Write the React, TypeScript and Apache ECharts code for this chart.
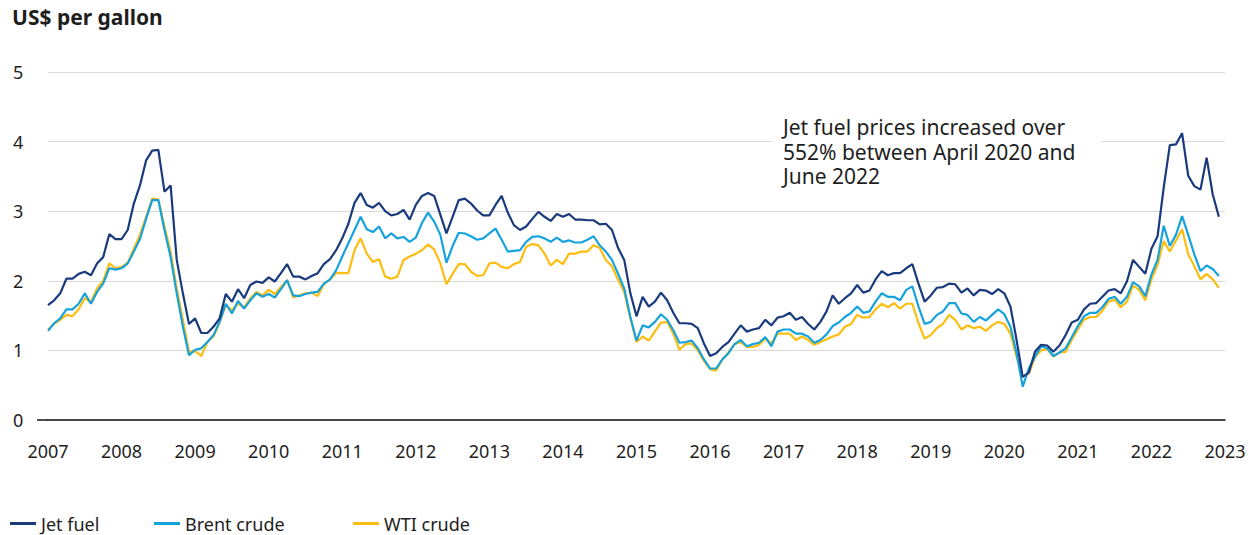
import React, { useEffect, useRef } from "react";
import * as echarts from "echarts";

const startYear = 2007;
const endYear = 2023;
const seriesNames = ["Jet fuel", "Brent crude", "WTI crude"];
const yTicks = [0, 1, 2, 3, 4, 5];

const jetFuel = [
  1.65, 1.72, 1.82, 2.03, 2.03, 2.10, 2.13, 2.08, 2.25, 2.34, 2.67, 2.60,
  2.60, 2.73, 3.11, 3.37, 3.73, 3.87, 3.88, 3.28, 3.37, 2.30, 1.82, 1.38,
  1.46, 1.25, 1.25, 1.34, 1.46, 1.81, 1.70, 1.88, 1.75, 1.94, 1.99, 1.97,
  2.05, 1.99, 2.11, 2.24, 2.06, 2.06, 2.02, 2.07, 2.11, 2.24, 2.31, 2.44,
  2.61, 2.82, 3.12, 3.26, 3.09, 3.05, 3.12, 3.00, 2.94, 2.96, 3.02, 2.88,
  3.09, 3.22, 3.26, 3.22, 2.95, 2.68, 2.92, 3.16, 3.18, 3.11, 3.01, 2.94,
  2.94, 3.09, 3.22, 2.98, 2.80, 2.73, 2.78, 2.89, 2.99, 2.92, 2.86, 2.96,
  2.92, 2.96, 2.88, 2.88, 2.87, 2.87, 2.81, 2.82, 2.73, 2.47, 2.30, 1.82,
  1.49, 1.77, 1.63, 1.70, 1.83, 1.72, 1.54, 1.39, 1.39, 1.38, 1.32, 1.10,
  0.92, 0.96, 1.05, 1.12, 1.24, 1.36, 1.27, 1.30, 1.32, 1.44, 1.36, 1.47,
  1.49, 1.54, 1.44, 1.48, 1.38, 1.30, 1.41, 1.56, 1.79, 1.67, 1.75, 1.82,
  1.94, 1.83, 1.86, 2.02, 2.14, 2.08, 2.11, 2.11, 2.18, 2.24, 1.96, 1.70,
  1.79, 1.90, 1.91, 1.96, 1.95, 1.83, 1.89, 1.79, 1.87, 1.86, 1.81, 1.88,
  1.82, 1.63, 1.15, 0.62, 0.68, 0.98, 1.08, 1.07, 0.98, 1.07, 1.22, 1.40,
  1.44, 1.59, 1.67, 1.68, 1.77, 1.86, 1.88, 1.82, 1.99, 2.30, 2.20, 2.10,
  2.46, 2.64, 3.34, 3.95, 3.96, 4.12, 3.51, 3.36, 3.31, 3.77, 3.24, 2.92,
];

const brentCrude = [
  1.28, 1.39, 1.46, 1.59, 1.59, 1.67, 1.82, 1.67, 1.84, 1.96, 2.18, 2.16,
  2.18, 2.25, 2.42, 2.60, 2.89, 3.16, 3.16, 2.73, 2.34, 1.82, 1.34, 0.93,
  1.01, 1.03, 1.12, 1.22, 1.41, 1.67, 1.53, 1.71, 1.60, 1.72, 1.82, 1.77,
  1.81, 1.76, 1.88, 2.01, 1.79, 1.78, 1.81, 1.83, 1.84, 1.96, 2.02, 2.15,
  2.35, 2.54, 2.73, 2.92, 2.74, 2.70, 2.78, 2.61, 2.68, 2.61, 2.63, 2.56,
  2.62, 2.83, 2.98, 2.85, 2.66, 2.26, 2.50, 2.69, 2.68, 2.64, 2.59, 2.61,
  2.68, 2.75, 2.59, 2.42, 2.43, 2.44, 2.56, 2.63, 2.64, 2.61, 2.56, 2.62,
  2.56, 2.58, 2.55, 2.55, 2.59, 2.64, 2.51, 2.42, 2.30, 2.10, 1.89, 1.48,
  1.14, 1.36, 1.33, 1.41, 1.52, 1.44, 1.29, 1.11, 1.12, 1.14, 1.03, 0.87,
  0.74, 0.74, 0.87, 0.96, 1.09, 1.15, 1.06, 1.09, 1.11, 1.19, 1.06, 1.27,
  1.30, 1.30, 1.24, 1.24, 1.20, 1.11, 1.15, 1.23, 1.35, 1.40, 1.48, 1.54,
  1.63, 1.54, 1.56, 1.70, 1.82, 1.77, 1.77, 1.72, 1.87, 1.92, 1.63, 1.38,
  1.41, 1.51, 1.56, 1.68, 1.68, 1.53, 1.51, 1.41, 1.48, 1.43, 1.51, 1.59,
  1.52, 1.34, 0.96, 0.48, 0.74, 0.91, 1.06, 1.03, 0.92, 0.97, 1.03, 1.19,
  1.35, 1.49, 1.54, 1.54, 1.62, 1.74, 1.77, 1.67, 1.77, 1.98, 1.92, 1.78,
  2.09, 2.30, 2.79, 2.50, 2.66, 2.93, 2.66, 2.38, 2.14, 2.22, 2.17, 2.07,
];

const wtiCrude = [
  1.30, 1.38, 1.44, 1.51, 1.49, 1.59, 1.75, 1.70, 1.89, 2.00, 2.25, 2.18,
  2.20, 2.26, 2.46, 2.66, 2.92, 3.18, 3.17, 2.78, 2.42, 1.89, 1.44, 0.98,
  0.99, 0.92, 1.12, 1.20, 1.40, 1.65, 1.58, 1.67, 1.62, 1.75, 1.84, 1.79,
  1.87, 1.81, 1.91, 2.01, 1.76, 1.79, 1.82, 1.83, 1.78, 1.95, 2.02, 2.11,
  2.11, 2.11, 2.44, 2.61, 2.39, 2.27, 2.31, 2.06, 2.03, 2.06, 2.30, 2.35,
  2.39, 2.44, 2.52, 2.45, 2.25, 1.95, 2.10, 2.24, 2.24, 2.13, 2.07, 2.08,
  2.25, 2.26, 2.20, 2.18, 2.24, 2.27, 2.49, 2.53, 2.51, 2.39, 2.22, 2.30,
  2.24, 2.39, 2.39, 2.42, 2.42, 2.51, 2.47, 2.30, 2.21, 2.01, 1.84, 1.46,
  1.12, 1.20, 1.14, 1.27, 1.40, 1.41, 1.24, 1.01, 1.09, 1.10, 1.00, 0.85,
  0.73, 0.71, 0.87, 0.97, 1.09, 1.12, 1.05, 1.05, 1.08, 1.17, 1.10, 1.24,
  1.24, 1.24, 1.15, 1.20, 1.15, 1.08, 1.12, 1.16, 1.20, 1.23, 1.34, 1.38,
  1.51, 1.47, 1.48, 1.59, 1.67, 1.62, 1.68, 1.60, 1.67, 1.67, 1.39, 1.17,
  1.22, 1.32, 1.38, 1.51, 1.44, 1.30, 1.36, 1.32, 1.34, 1.28, 1.36, 1.41,
  1.38, 1.24, 0.91, 0.62, 0.67, 0.90, 1.00, 1.02, 0.91, 0.97, 0.98, 1.15,
  1.30, 1.44, 1.48, 1.48, 1.57, 1.70, 1.73, 1.62, 1.70, 1.93, 1.87, 1.72,
  2.02, 2.23, 2.57, 2.42, 2.58, 2.74, 2.38, 2.21, 2.02, 2.10, 2.02, 1.90,
];

const annotationText =
  "Jet fuel prices increased over\n552% between April 2020 and\nJune 2022";
const titleText = "US$ per gallon";

const FONT = "'Noto Sans', 'Open Sans', sans-serif";
const TEXT = "#1e1e1e";
const COLORS = ["#1a3a7e", "#16a3dd", "#fdbd10"];

// monthly points: x = year + month / 12
const toPoints = (vals: number[]) =>
  vals.map((v, i) => [startYear + Math.floor(i / 12) + (i % 12) / 12, v]);

export default function App() {
  const ref = useRef<HTMLDivElement>(null);

  useEffect(() => {
    if (!ref.current) return;
    const chart = echarts.init(ref.current, undefined, { renderer: "svg" });
    const data = [jetFuel, brentCrude, wtiCrude];
    const legendLefts = [10, 154, 353];

    chart.setOption({
      animation: false,
      textStyle: { fontFamily: FONT },
      grid: { left: 48, right: 35, top: 72, bottom: 115 },
      xAxis: {
        type: "value",
        min: startYear,
        max: endYear,
        interval: 1,
        axisLine: { show: true, lineStyle: { color: "#111", width: 1.5 } },
        axisTick: { show: false },
        splitLine: { show: false },
        axisLabel: {
          color: TEXT,
          fontSize: 18,
          fontFamily: FONT,
          margin: 22,
          formatter: (v: number) => String(Math.round(v)),
        },
      },
      yAxis: {
        type: "value",
        min: yTicks[0],
        max: yTicks[yTicks.length - 1],
        interval: 1,
        axisLine: { show: false },
        axisTick: { show: false },
        splitLine: { lineStyle: { color: "#d9d9d9", width: 1.2 } },
        axisLabel: {
          color: TEXT,
          fontSize: 18,
          fontFamily: FONT,
          margin: 35,
          align: "left",
        },
      },
      legend: seriesNames.map((n, i) => ({
        data: [n],
        left: legendLefts[i],
        top: 513,
        padding: 0,
        icon: "rect",
        itemWidth: 26,
        itemHeight: 3,
        itemGap: 0,
        textStyle: { color: TEXT, fontSize: 18, fontFamily: FONT, lineHeight: 21 },
        selectedMode: false,
      })),
      graphic: [
        {
          type: "text",
          left: 12,
          top: 6,
          style: {
            text: titleText,
            fill: TEXT,
            font: `bold 21px ${FONT}`,
          },
        },
        {
          type: "line",
          shape: { x1: 37, y1: 420, x2: 48, y2: 420 },
          style: { stroke: "#111", lineWidth: 1.5 },
        },
        {
          type: "rect",
          z: 1,
          shape: { x: 773, y: 116, width: 329, height: 82 },
          style: { fill: "#fff" },
        },
        {
          type: "text",
          z: 2,
          x: 783,
          y: 115,
          style: {
            text: annotationText,
            fill: TEXT,
            font: `21px ${FONT}`,
            lineHeight: 24.5,
            verticalAlign: "top",
          },
        },
      ],
      series: seriesNames.map((n, i) => ({
        name: n,
        type: "line",
        data: toPoints(data[i]),
        showSymbol: false,
        symbol: "none",
        z: 4 - i,
        color: COLORS[i],
        lineStyle: { color: COLORS[i], width: 2.2 },
      })),
    });

    return () => chart.dispose();
  }, []);

  return (
    <div
      ref={ref}
      style={{ position: "absolute", left: 0, top: 0, width: 1260, height: 535 }}
    />
  );
}
